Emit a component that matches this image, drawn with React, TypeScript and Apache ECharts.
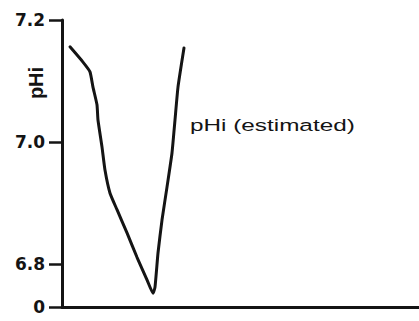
import React, { useEffect, useRef } from "react";
import * as echarts from "echarts";

// time positions (arbitrary units along the x axis)
const timeX = [2.24, 5.88, 7.84, 8.68, 9.8, 10.08, 11.2, 12.04, 13.45, 15.41, 18.21, 21.01, 23.81, 25.49, 26.05, 26.89, 28.01, 29.41, 30.81, 31.65, 32.49, 34.17];
// estimated intracellular pH
const pHiValues = [7.156, 7.131, 7.115, 7.09, 7.061, 7.036, 6.992, 6.954, 6.916, 6.889, 6.851, 6.811, 6.774, 6.752, 6.762, 6.818, 6.872, 6.926, 6.982, 7.036, 7.09, 7.154];

// broken y axis: bottom of axis is labelled "0"
const yTickValues = [6.7295, 6.8, 7.0, 7.2];
const yTickLabels = ["0", "6.8", "7.0", "7.2"];

const yAxisTitle = "pHi";
const seriesLabel = "pHi (estimated)";

export default function App() {
  const ref = useRef<HTMLDivElement>(null);

  useEffect(() => {
    if (!ref.current) return;
    const chart = echarts.init(ref.current, undefined, { renderer: "svg" });
    const ink = "#141414";
    const labelFor = (v: number) => {
      let best = 0;
      let bd = Infinity;
      yTickValues.forEach((t, i) => {
        const d = Math.abs(t - v);
        if (d < bd) {
          bd = d;
          best = i;
        }
      });
      return yTickLabels[best];
    };
    chart.setOption({
      animation: false,
      backgroundColor: "#ffffff",
      grid: { left: 62, right: 0, top: 20, bottom: 14 },
      xAxis: {
        type: "value",
        min: 0,
        max: 100,
        axisLine: { show: true, onZero: false, lineStyle: { color: ink, width: 3 } },
        axisTick: { show: false },
        axisLabel: { show: false },
        splitLine: { show: false },
      },
      yAxis: {
        type: "value",
        min: yTickValues[0],
        max: yTickValues[yTickValues.length - 1],
        axisLine: { show: true, lineStyle: { color: ink, width: 3 } },
        axisTick: {
          show: true,
          length: 13,
          customValues: yTickValues,
          lineStyle: { color: ink, width: 2.5 },
        },
        axisLabel: {
          show: true,
          customValues: yTickValues,
          margin: 17,
          color: ink,
          fontFamily: "DejaVu Sans",
          fontWeight: "bold",
          fontSize: 17,
          formatter: (v: number) => labelFor(v),
        },
        splitLine: { show: false },
      },
      graphic: [
        {
          type: "text",
          x: 36,
          y: 83,
          rotation: Math.PI / 2,
          style: {
            text: yAxisTitle,
            fill: ink,
            font: "bold 20px 'Liberation Sans'",
            align: "center",
            verticalAlign: "middle",
          },
        },
        {
          type: "text",
          x: 190,
          y: 125,
          scaleX: 1.43,
          style: {
            text: seriesLabel,
            fill: ink,
            font: "17px 'Liberation Sans'",
            align: "left",
            verticalAlign: "middle",
          },
        },
      ],
      series: [
        {
          type: "line",
          data: timeX.map((x, i) => [x, pHiValues[i]]),
          showSymbol: false,
          smooth: 0.15,
          lineStyle: { color: ink, width: 3, join: "round", cap: "round" },
        },
      ],
    });
    return () => chart.dispose();
  }, []);

  return (
    <div
      ref={ref}
      style={{ position: "absolute", left: 0, top: 0, width: 419, height: 321 }}
    />
  );
}
